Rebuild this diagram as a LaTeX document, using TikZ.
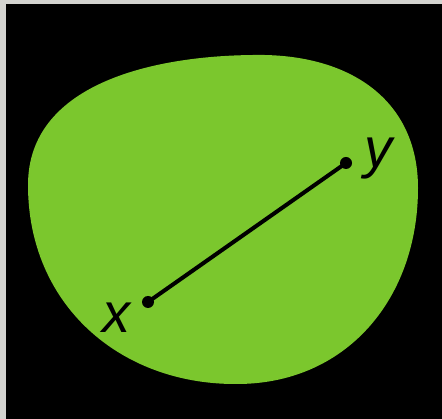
\documentclass[tikz,border=0pt]{standalone}
\usepackage{fontspec}
\setmainfont{Liberation Sans}
\definecolor{bordergray}{RGB}{212,212,208}
\definecolor{blobgreen}{RGB}{123,199,45}
\begin{document}
\begin{tikzpicture}[x=1pt,y=-1pt,
  dotpt/.style={circle,fill=black,inner sep=0pt,minimum size=12pt},
  lbl/.style={font=\fontsize{56}{56}\selectfont\itshape,inner sep=0pt,text=black}]
\useasboundingbox (0,0) rectangle (442,419);
\fill[bordergray] (0,0) rectangle (442,419);
\fill[black] (6,4) rectangle (442,419);
\fill[blobgreen] (253,55)
  .. controls (350,53) and (418,100) .. (418,188)
  .. controls (418,300) and (345,385) .. (235,384)
  .. controls (120,384) and (28,305) .. (28,185)
  .. controls (28,85) and (150,56) .. (253,55) -- cycle;
\node[dotpt] (px) at (148,302) {};
\node[dotpt] (py) at (346,163) {};
\draw[line width=4pt] (px.center) -- (py.center);
\node[lbl,anchor=base] (lx) at (116,333) {x};
\node[lbl,anchor=base] (ly) at (378,168) {y};
\end{tikzpicture}
\end{document}
